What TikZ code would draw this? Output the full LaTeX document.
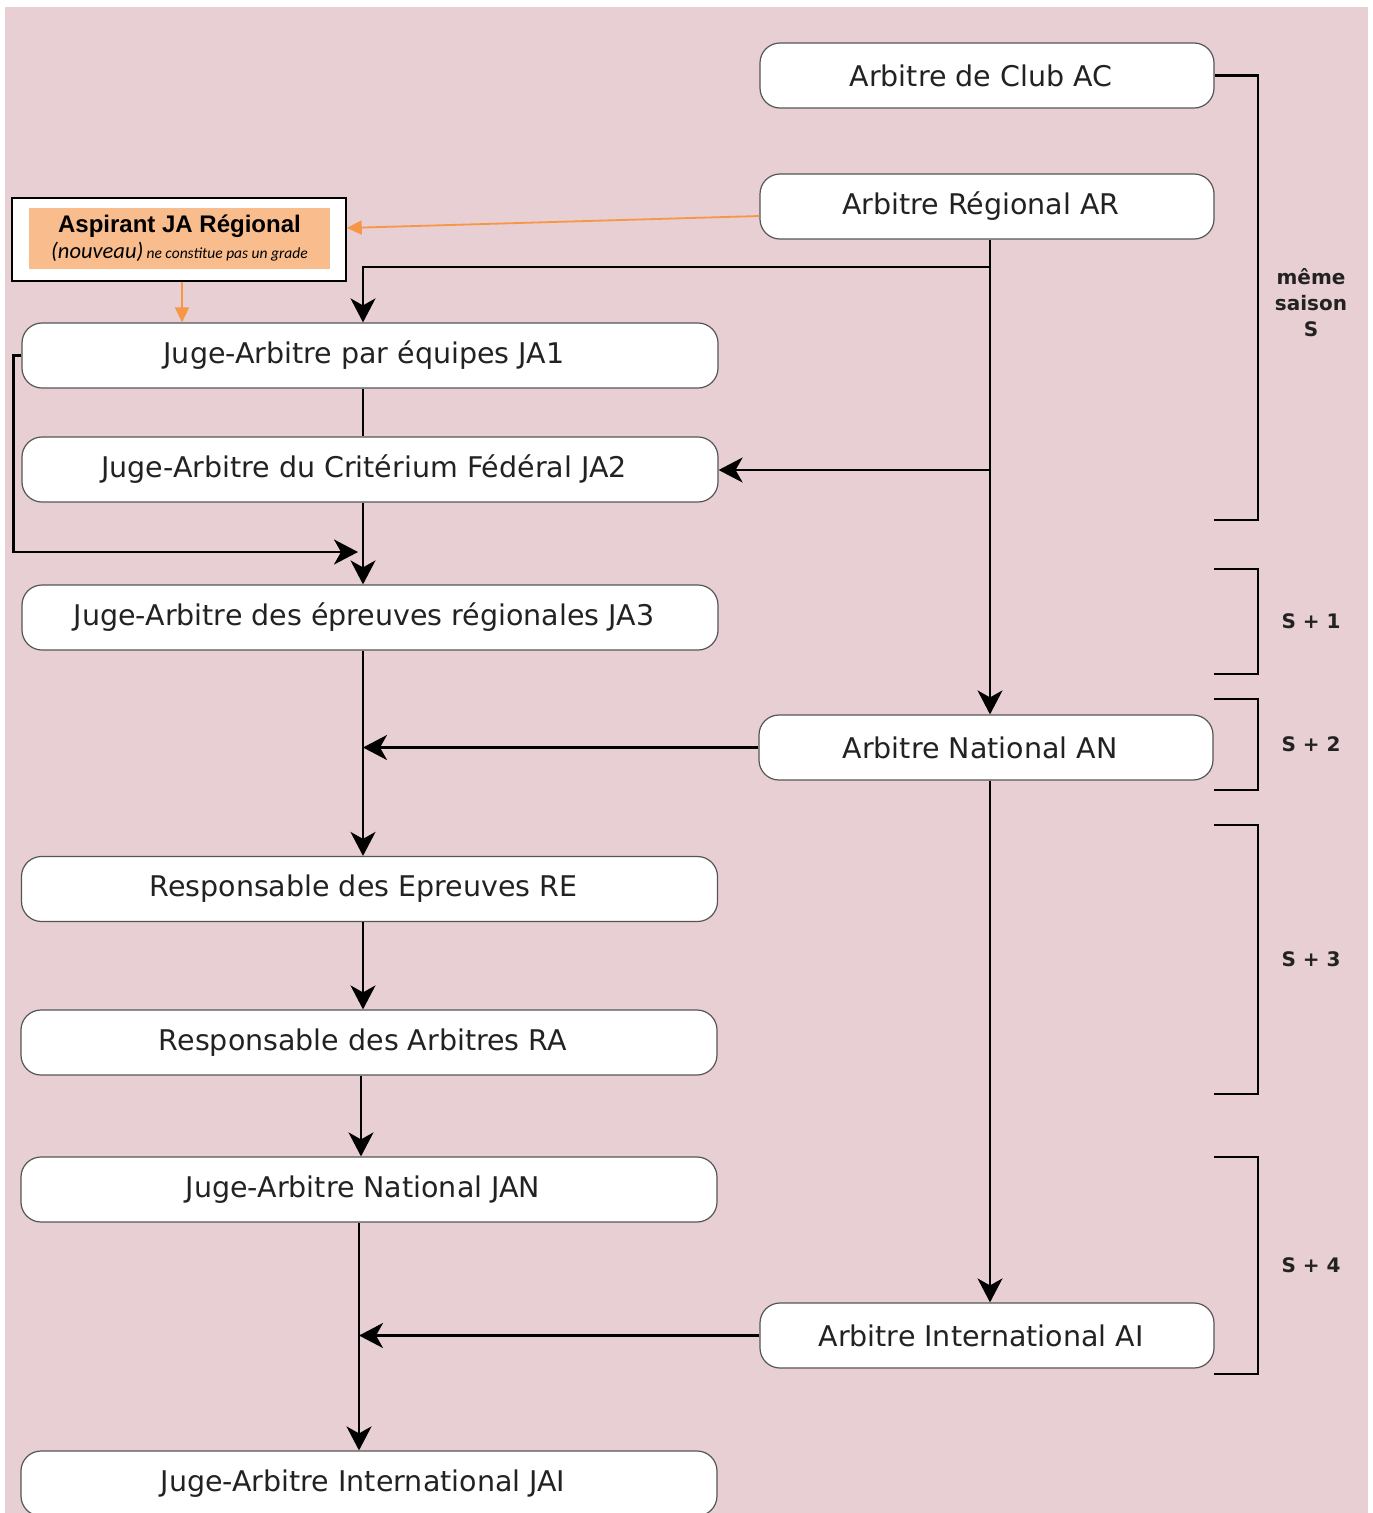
\documentclass[tikz,border=0pt]{standalone}
\usepackage{fontspec}
\setmainfont{DejaVu Sans}
\newfontfamily\arialfont{Liberation Sans}
\newfontfamily\calibrifont{Carlito}
\usetikzlibrary{arrows.meta}
\definecolor{fondrose}{HTML}{E8CFD3}
\definecolor{orangeasp}{HTML}{F8BC8D}
\definecolor{orangefl}{HTML}{F79646}
\definecolor{bordgris}{HTML}{555555}
\definecolor{texte}{HTML}{222222}

\begin{document}
\begin{tikzpicture}[x=1pt, y=-1pt,
    grade/.style={draw=bordgris, line width=1.2pt, fill=white, rounded corners=20pt,
      minimum height=65pt, inner sep=0pt, text=texte, font=\fontsize{28.5}{32}\selectfont,
      execute at begin node={\hspace*{-12pt}}},
    gauche/.style={grade, minimum width=696pt},
    droite/.style={grade, minimum width=454pt},
    trait/.style={line width=2.2pt},
    fleche/.style={trait, -{Stealth[length=24pt, width=25pt, inset=7pt]}},
    flecheorange/.style={orangefl, line width=1.8pt, -{Triangle[length=15pt, width=14pt]}},
    saison/.style={text=texte, font=\bfseries\fontsize{20}{26}\selectfont, align=center}]

    \useasboundingbox (0,0) rectangle (1373,1513);
    \fill[white] (0,0) rectangle (1373,1513);
    \fill[fondrose] (5,7) rectangle (1368,1513);

    % grades a droite
    \node[droite] (ac) at (987,75.5) {Arbitre de Club AC};
    \node[droite] (ar) at (987,206.5) {Arbitre Régional AR};
    \node[droite] (an) at (986,747.5) {Arbitre National AN};
    \node[droite] (ai) at (987,1335.5) {Arbitre International AI};

    % grades a gauche
    \node[gauche] (ja1) at (370,355.5) {Juge-Arbitre par équipes JA1};
    \node[gauche] (ja2) at (370,469.5) {Juge-Arbitre du Critérium Fédéral JA2};
    \node[gauche] (ja3) at (370,617.5) {Juge-Arbitre des épreuves régionales JA3};
    \node[gauche] (re) at (369.5,889) {Responsable des Epreuves RE};
    \node[gauche] (ra) at (369,1042.5) {Responsable des Arbitres RA};
    \node[gauche] (jan) at (369,1189.5) {Juge-Arbitre National JAN};
    \node[gauche] (jai) at (369,1483.5) {Juge-Arbitre International JAI};

    % aspirant
    \node[draw=black, line width=1.5pt, fill=white, minimum width=334pt,
      minimum height=83pt] (cadreasp) at (179,239.5) {};
    \node[fill=orangeasp, minimum width=301pt, minimum height=61pt, inner sep=0pt,
      align=center] (asp) at (179.5,238.5)
      {{\arialfont\bfseries\fontsize{24}{26}\selectfont Aspirant JA Régional}\\[3pt]
       {\calibrifont\itshape\fontsize{22.5}{24}\selectfont (nouveau)}
       {\calibrifont\itshape\fontsize{15.5}{24}\selectfont ne constitue pas un grade}};

    \draw[flecheorange] ([yshift=-9.5pt]ar.west) -- ([yshift=11.5pt]cadreasp.east);
    \draw[flecheorange] ([xshift=3pt]cadreasp.south) -- ([xshift=3pt]cadreasp.south |- ja1.north);

    % colonnes
    \coordinate (d) at (990,0);
    \coordinate (g) at (363,0);
    \coordinate (g2) at (361,0);
    \coordinate (g3) at (359,0);
    \coordinate (d1) at (990,267);
    \coordinate (d2) at (990,470);
    \coordinate (retour) at (358,552);

    \draw[fleche] (ar.south -| d) -- (an.north -| d);
    \draw[fleche] (an.south -| d) -- (ai.north -| d);
    \draw[fleche] (d1) -| (ja1.north -| g);
    \draw[fleche] (d2) -- (ja2.east |- d2);
    \draw[trait] (ja1.south -| g) -- (ja2.north -| g);
    \draw[fleche] (ja2.south -| g) -- (ja3.north -| g);
    \draw[fleche] (ja1.west) -- ++(-8,0) |- (retour);
    \draw[fleche] (ja3.south -| g) -- (re.north -| g);
    \draw[fleche] (an.west) -- (an.west -| g);
    \draw[fleche] (re.south -| g) -- (ra.north -| g);
    \draw[fleche] (ra.south -| g2) -- (jan.north -| g2);
    \draw[fleche] (jan.south -| g3) -- (jai.north -| g3);
    \draw[fleche] (ai.west) -- (ai.west -| g3);

    % saisons
    \draw[trait] (ac.east) -| (1258,520) -- (1214,520);
    \node[saison] (saisonS) at (1311,303) {même\\saison\\S};
    \foreach \h/\b/\t in {569/674/{S + 1}, 699/790/{S + 2}, 825/1094/{S + 3}, 1157/1374/{S + 4}}{
      \draw[trait] (1214,\h) -| (1258,\b) -- (1214,\b);
      \node[saison] (saison\h) at (1311,{(\h+\b)/2}) {\t};
    }

\end{tikzpicture}
\end{document}
